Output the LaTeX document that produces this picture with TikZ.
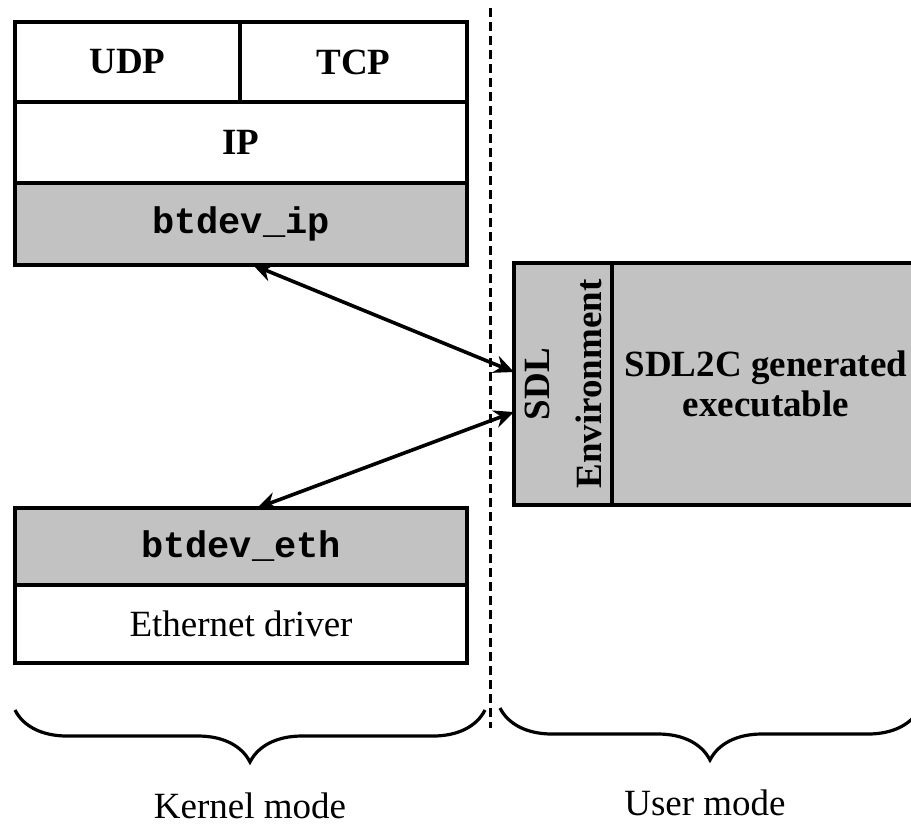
\documentclass[tikz,border=0pt]{standalone}
\usepackage{fontspec}
\setmainfont{Liberation Serif}
\setmonofont{Liberation Mono}
\usepackage{tikz}
\usetikzlibrary{arrows.meta,positioning,calc,decorations.pathreplacing}
\definecolor{stkShade}{HTML}{C2C2C2}
\definecolor{stkEdge}{HTML}{000000}
\tikzset{
  stk/.style={draw=stkEdge,line width=2pt,fill=white,align=center,inner sep=0pt,outer sep=0pt,
              font=\fontsize{18.5}{21}\selectfont,minimum width=226pt},
  stkbold/.style={stk,font=\fontsize{18.5}{21}\selectfont\bfseries},
  stkshade/.style={stk,fill=stkShade},
  stkcode/.style={stkshade,font=\fontsize{18.5}{21}\selectfont\ttfamily\bfseries},
  stkflow/.style={{Stealth[length=10pt,width=9pt]}-{Stealth[length=10pt,width=9pt]},draw=stkEdge,line width=1.8pt},
  stksep/.style={draw=stkEdge,line width=1.5pt,dash pattern=on 4.5pt off 2.5pt},
  stkbrace/.style={draw=stkEdge,decorate,decoration={brace,mirror,amplitude=26pt},line width=1.6pt},
  stkmode/.style={font=\fontsize{18.5}{21}\selectfont,inner sep=0pt},
}
\begin{document}
\begin{tikzpicture}[x=0.5pt,y=-0.5pt]
  \useasboundingbox (0,0) rectangle (911,827);
  \clip (0,0) rectangle (911,827);

  % protocol stack, kernel side
  \node[stkbold,minimum width=112.5pt,minimum height=40pt,anchor=north west] (UDP) at (15,22) {UDP};
  \node[stkbold,minimum width=113.5pt,minimum height=40pt,right=0pt of UDP] (TCP) {TCP};
  \node[stkbold,minimum height=40.5pt,anchor=north west] (IP) at (UDP.south west) {IP};
  \node[stkcode,minimum height=41pt,below=0pt of IP] (BI) {btdev\_ip};

  \node[stkcode,minimum height=38.5pt,anchor=north west] (BE) at (15,508) {btdev\_eth};
  \node[stk,minimum height=39pt,below=0pt of BE] (ETH) {Ethernet driver};

  % user side
  \node[stkshade,minimum width=49pt,minimum height=121pt,anchor=north west] (ENV) at (514,263) {};
  \node[rotate=90,align=center,inner sep=0pt,font=\fontsize{18.5}{26}\selectfont\bfseries] (ENVT) at (ENV.center) {SDL\\Environment};
  \node[stkshade,font=\fontsize{18.5}{20}\selectfont\bfseries,minimum width=154pt,minimum height=121pt,right=0pt of ENV] (EXE) {SDL2C generated\\executable};

  % kernel / user boundary
  \coordinate (sepT) at (490,8);
  \coordinate (sepB) at (490,728);
  \draw[stksep] (sepT) -- (sepB);

  \draw[stkflow] ([xshift=6pt]BI.south) -- ([yshift=6pt]ENV.west);
  \draw[stkflow] ([yshift=-14pt]ENV.west) -- ([xshift=8pt]BE.north);

  % braces and mode labels
  \coordinate (kL) at (15,710);
  \coordinate (kR) at (485,710);
  \coordinate (uL) at (500,708);
  \coordinate (uR) at (920,708);
  \draw[stkbrace] (kL) -- (kR);
  \draw[stkbrace] (uL) -- (uR);
  \node[stkmode] (KM) at (250,806) {Kernel mode};
  \node[stkmode] (UM) at (705,803) {User mode};
\end{tikzpicture}
\end{document}
